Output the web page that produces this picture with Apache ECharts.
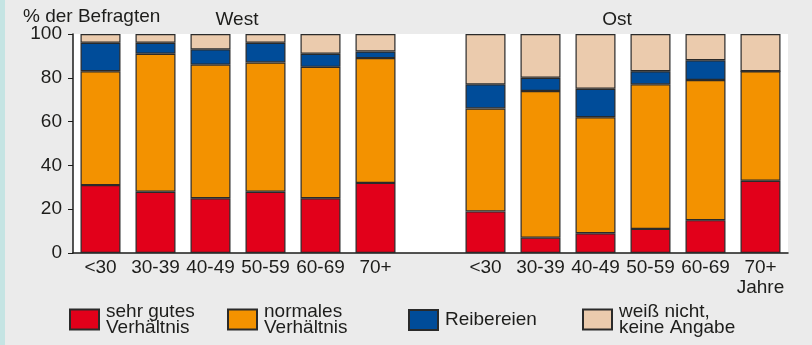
<!DOCTYPE html>
<html>
<head>
<meta charset="utf-8">
<script src="https://cdn.jsdelivr.net/npm/echarts@6/dist/echarts.min.js"></script>
<style>
  html, body { margin: 0; padding: 0; background: #ebebeb; }
  #chart { width: 812px; height: 345px; }
</style>
</head>
<body>
<div id="chart"></div>
<script>
// Altersgruppen
const westAges = ['<30', '30-39', '40-49', '50-59', '60-69', '70+']
const ostAges = ['<30', '30-39', '40-49', '50-59', '60-69', '70+\nJahre']
const seriesNames = ['sehr gutes\nVerhältnis', 'normales\nVerhältnis', 'Reibereien', 'weiß nicht,\nkeine Angabe']

// Werte in % (West)
const westSehrGut = [31, 28, 25, 28, 25, 32]
const westNormal = [52, 63, 61, 59, 60, 57]
const westReib = [13, 5, 7, 9, 6, 3]
const westWeiss = [4, 4, 7, 4, 9, 8]
// Werte in % (Ost)
const ostSehrGut = [19, 7, 9, 11, 15, 33]
const ostNormal = [47, 67, 53, 66, 64, 50]
const ostReib = [11, 6, 13, 6, 9, 0]
const ostWeiss = [23, 20, 25, 17, 12, 17]

const yTicks = [0, 20, 40, 60, 80, 100]

const colors = ['#e2001a', '#f39200', '#004c99', '#ebcbad']
const font = 'Liberation Sans, Arial, sans-serif'
const textColor = '#1d1d1b'

// Leerer Platz zwischen West und Ost
const categories = westAges.concat([''], ostAges)
const join = (w, o) => w.concat([null], o)
const seriesData = [
  join(westSehrGut, ostSehrGut),
  join(westNormal, ostNormal),
  join(westReib, ostReib),
  join(westWeiss, ostWeiss)
]

const chart = echarts.init(document.getElementById('chart'))

const legendPos = [
  { left: 69, top: 302 },
  { left: 227, top: 302 },
  { left: 408, top: 309 },
  { left: 582, top: 302 }
]

const option = {
  animation: false,
  backgroundColor: '#ebebeb',
  textStyle: { fontFamily: font, color: textColor },
  grid: {
    left: 73, right: 24, top: 34, bottom: 92,
    show: true, backgroundColor: '#ffffff', borderWidth: 0
  },
  legend: seriesNames.map((name, i) => ({
    data: [name],
    left: legendPos[i].left,
    top: legendPos[i].top,
    padding: 0,
    itemWidth: 29,
    itemHeight: 20,
    icon: 'rect',
    selectedMode: false,
    textStyle: { fontSize: 19, lineHeight: 16, color: textColor, fontFamily: font, padding: [0, 0, 0, 2] }
  })),
  graphic: [
    { type: 'rect', shape: { x: 0, y: 0, width: 5, height: 345 }, style: { fill: '#c5e4e3' } },
    { type: 'text', style: { text: '% der Befragten', x: 23, y: 17, verticalAlign: 'middle', fontSize: 19, fontFamily: font, fill: textColor } },
    { type: 'text', style: { text: 'West', x: 237, y: 20, align: 'center', verticalAlign: 'middle', fontSize: 19, fontFamily: font, fill: textColor } },
    { type: 'text', style: { text: 'Ost', x: 617, y: 20, align: 'center', verticalAlign: 'middle', fontSize: 19, fontFamily: font, fill: textColor } }
  ],
  xAxis: {
    type: 'category',
    data: categories,
    boundaryGap: true,
    axisLine: { lineStyle: { color: '#1d1d1b', width: 1.5 } },
    axisTick: { inside: true, length: 4, interval: 0, lineStyle: { color: '#555' } },
    axisLabel: { interval: 0, margin: 5, fontSize: 19, lineHeight: 20, color: textColor }
  },
  yAxis: {
    type: 'value',
    min: yTicks[0],
    max: yTicks[yTicks.length - 1],
    interval: 20,
    splitLine: { show: false },
    axisLine: { show: true, lineStyle: { color: '#1d1d1b', width: 1.5 } },
    axisTick: { show: true, length: 5, lineStyle: { color: '#1d1d1b' } },
    axisLabel: { margin: 11, fontSize: 19, color: textColor }
  },
  series: seriesNames.map((name, i) => ({
    name: name,
    type: 'bar',
    stack: 'total',
    barWidth: 40,
    data: seriesData[i],
    itemStyle: { color: colors[i], borderColor: '#2a2a2a', borderWidth: 1.2 }
  }))
}

chart.setOption(option)
</script>
</body>
</html>
